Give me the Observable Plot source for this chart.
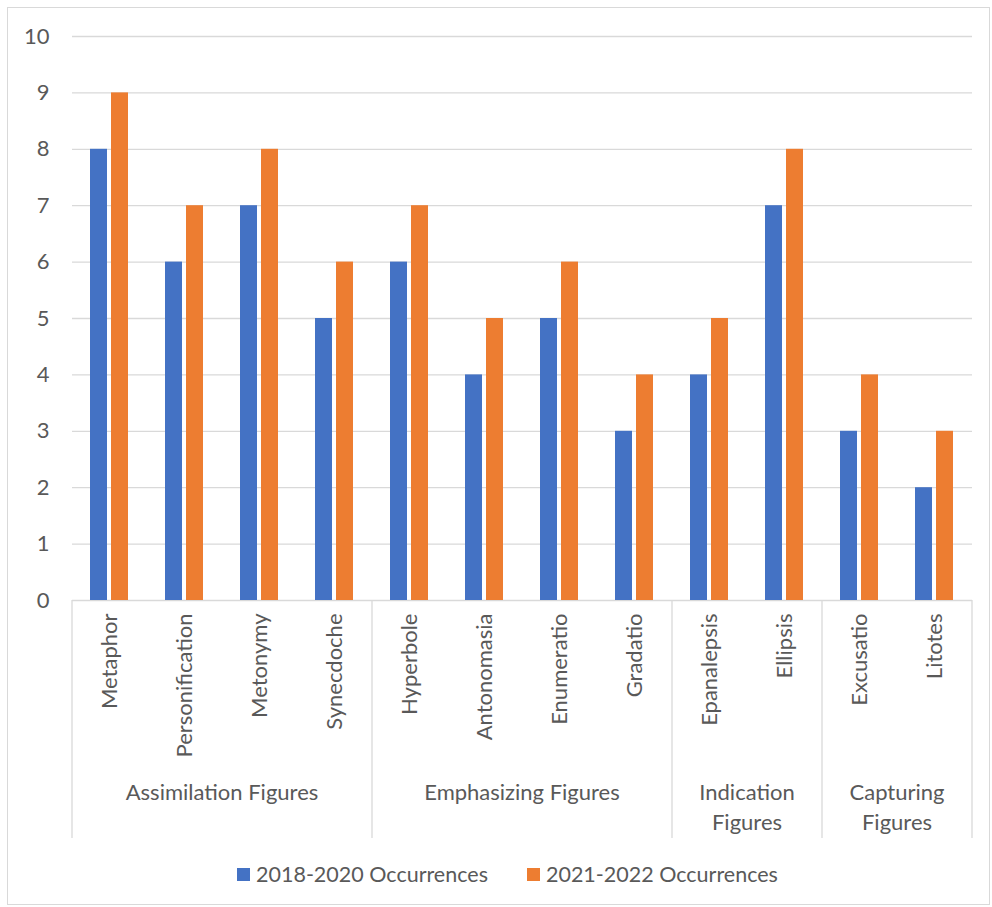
<!DOCTYPE html>
<html>
<head>
<meta charset="utf-8">
<script src="https://cdn.jsdelivr.net/npm/d3@7"></script>
<script src="https://cdn.jsdelivr.net/npm/@observablehq/plot@0.6"></script>
<style>
  body { margin: 0; background: #fff; font-family: Lato, sans-serif; }
  #frame { position: absolute; left: 7px; top: 7px; width: 983px; height: 898px; border: 1px solid #d9d9d9; box-sizing: border-box; }
  #chart { position: absolute; left: 0; top: 0; }
  #legend { position: absolute; left: 237px; top: 861px; height: 26px; display: flex; align-items: center; font-size: 21.5px; color: #595959; white-space: nowrap; }
  #legend .item { display: flex; align-items: center; margin-right: 39px; }
  #legend .sw { width: 13px; height: 13px; margin-right: 6px; }
</style>
</head>
<body>
<div id="frame"></div>
<div id="chart"></div>
<div id="legend"></div>
<script>
const categories = ["Metaphor", "Personification", "Metonymy", "Synecdoche", "Hyperbole", "Antonomasia", "Enumeratio", "Gradatio", "Epanalepsis", "Ellipsis", "Excusatio", "Litotes"];
const groups = ["Assimilation Figures", "Emphasizing Figures", "Indication\nFigures", "Capturing\nFigures"];
const groupSizes = [4, 4, 2, 2];
const series = ["2018-2020 Occurrences", "2021-2022 Occurrences"];
const values2018 = [8, 6, 7, 5, 6, 4, 5, 3, 4, 7, 3, 2];
const values2021 = [9, 7, 8, 6, 7, 5, 6, 4, 5, 8, 4, 3];
const colors = ["#4472C4", "#ED7D31"];
const yTicks = [0, 1, 2, 3, 4, 5, 6, 7, 8, 9, 10];

const rows0 = categories.map((c, i) => ({category: c, series: series[0], value: values2018[i]}));
const rows1 = categories.map((c, i) => ({category: c, series: series[1], value: values2021[i]}));

const textColor = "#595959";
const gridColor = "#d9d9d9";

function groupAxis(index, scales, values, dimensions) {
  const x = scales.x, y = scales.y;
  const step = (dimensions.width - dimensions.marginLeft - dimensions.marginRight) / categories.length;
  const y0 = y(0);
  const g = d3.create("svg:g");
  let start = 0;
  groups.forEach((name, gi) => {
    const n = groupSizes[gi];
    const left = x(categories[start]);
    const right = x(categories[start + n - 1]) + step;
    if (gi === 0) {
      g.append("line").attr("x1", left).attr("x2", left).attr("y1", y0).attr("y2", y0 + 238)
        .attr("stroke", gridColor).attr("stroke-width", 1.3);
    }
    g.append("line").attr("x1", right).attr("x2", right).attr("y1", y0).attr("y2", y0 + 238)
      .attr("stroke", gridColor).attr("stroke-width", 1.3);
    const t = g.append("text")
      .attr("text-anchor", "middle")
      .attr("fill", textColor)
      .attr("font-size", 22)
      .attr("font-family", "Lato, sans-serif");
    name.split("\n").forEach((line, li) => {
      t.append("tspan").attr("x", (left + right) / 2).attr("y", y0 + 194 + li * 30)
        .attr("dominant-baseline", "middle").text(line);
    });
    start += n;
  });
  return g.node();
}

const chart = Plot.plot({
  width: 992,
  height: 850,
  marginLeft: 72,
  marginRight: 20,
  marginTop: 36,
  marginBottom: 250,
  x: {domain: categories, padding: 0, axis: null},
  y: {domain: [0, 10]},
  color: {domain: series, range: colors},
  style: {fontFamily: "Lato, sans-serif", fontSize: "22px", color: textColor, background: "transparent"},
  marks: [
    Plot.ruleY(yTicks, {stroke: gridColor, strokeWidth: 1.3}),
    Plot.axisY(yTicks, {tickSize: 0, tickPadding: 23, tickFormat: d3.format("d"), label: null, fontSize: 22, fill: textColor}),
    Plot.barY(rows0, {x: "category", y: "value", fill: "series", insetLeft: 18, insetRight: 40}),
    Plot.barY(rows1, {x: "category", y: "value", fill: "series", insetLeft: 39, insetRight: 19}),
    Plot.text(categories, {x: d => d, y: () => 0, rotate: -90, textAnchor: "end", dy: 13, fontSize: 22, fill: textColor}),
    groupAxis
  ]
});
document.getElementById("chart").appendChild(chart);

const legend = d3.select("#legend");
series.forEach((s, i) => {
  const item = legend.append("div").attr("class", "item");
  item.append("div").attr("class", "sw").style("background", colors[i]);
  item.append("span").text(s);
});
</script>
</body>
</html>
